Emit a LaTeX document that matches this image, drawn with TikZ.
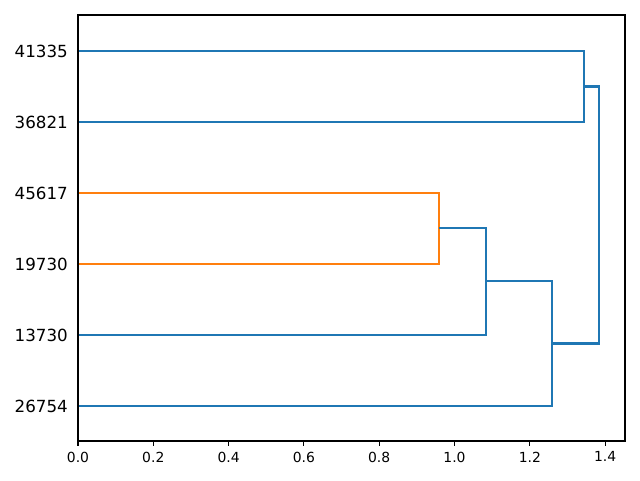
\documentclass[tikz,border=0pt]{standalone}
\usepackage{fontspec}
\setmainfont{DejaVu Sans}
\definecolor{tabblue}{HTML}{1F77B4}
\definecolor{taborange}{HTML}{FF7F0E}
\begin{document}
\begin{tikzpicture}[x=1pt,y=-1pt,
  link/.style={line width=2.08pt,tabblue,line join=miter},
  olink/.style={line width=2.08pt,taborange,line join=miter},
  spine/.style={line width=1.1pt,black},
  tickmark/.style={line width=1.1pt,black},
  ylab/.style={anchor=east,inner sep=0pt,font=\fontsize{16.7}{20}\selectfont},
  xlab/.style={anchor=north,inner sep=0pt,font=\fontsize{13.9}{16}\selectfont}]
\useasboundingbox (0,0) rectangle (640,480);
% leaf coordinates
\coordinate (l1) at (78,51);
\coordinate (l2) at (78,122);
\coordinate (l3) at (78,193);
\coordinate (l4) at (78,264);
\coordinate (l5) at (78,335);
\coordinate (l6) at (78,406);
% labels
\node[ylab] (t1) at (68,51) {41335};
\node[ylab] (t2) at (68,122) {36821};
\node[ylab] (t3) at (68,193) {45617};
\node[ylab] (t4) at (68,264) {19730};
\node[ylab] (t5) at (68,335) {13730};
\node[ylab] (t6) at (68,406) {26754};
% links
\draw[olink] (l3) -| (439,228) |- (l4);
\draw[link] (l1) -| (584,86.5) |- (l2);
\draw[link] (439,228) -| (486,281) |- (l5);
\draw[link] (486,281) -| (552,343.5) |- (l6);
\draw[link] (584,86.5) -| (599,215) |- (552,343.5);
% axes frame
\draw[spine] (78,15) rectangle (625,441);
% x ticks
\foreach \v/\lab in {0/0.0,1/0.2,2/0.4,3/0.6,4/0.8,5/1.0,6/1.2,7/1.4}{
  \draw[tickmark] (78+75.3*\v,441) -- (78+75.3*\v,445.9);
  \node[xlab] (x\v) at (78+75.3*\v,451.5) {\lab};
}
\end{tikzpicture}
\end{document}
